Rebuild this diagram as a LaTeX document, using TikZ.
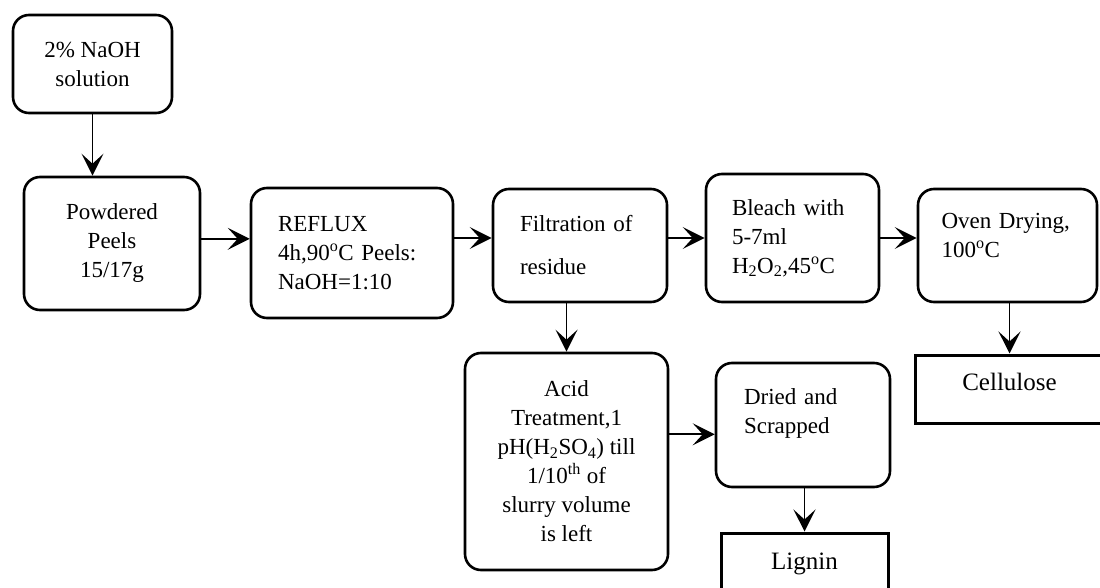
\documentclass[tikz,border=0pt]{standalone}
\usepackage{fontspec}
\setmainfont{Liberation Serif}
\usetikzlibrary{arrows.meta}

\begin{document}
\begin{tikzpicture}[x=1pt, y=-1pt,
  font=\fontsize{23}{29}\selectfont,
  box/.style={draw, line width=2.6pt, rounded corners=16pt, inner sep=0pt, align=center},
  lbox/.style={box, align=left, text width=#1},
  res/.style={draw, line width=3pt, inner sep=0pt, align=center, font=\fontsize{25}{29}\selectfont},
  arr/.style={-{Stealth[length=22pt, width=22pt, inset=10pt]}, line width=1.6pt}]
\useasboundingbox (0,0) rectangle (1100,588);
% pretreatment row
\node[box, minimum width=159pt, minimum height=98pt] (naoh) at (92.5,64) {2\% NaOH\\solution};
\node[box, minimum width=176pt, minimum height=133pt] (peels) at (112,243.5) {Powdered\\Peels\\15/17g};
\node[lbox=148pt, minimum width=202pt, minimum height=130pt] (reflux) at (352,253) {REFLUX\\4h,90\textsuperscript{o}C Peels:\\NaOH=1:10};
\node[lbox=120pt, minimum width=174pt, minimum height=113pt] (filt) at (580,245.5) {Filtration of\\[14pt]residue};
\node[lbox=121pt, minimum width=173pt, minimum height=128pt] (bleach) at (792.5,238) {Bleach with\\5-7ml\\H\textsubscript{2}O\textsubscript{2},45\textsuperscript{o}C};
\node[lbox=132pt, minimum width=179pt, minimum height=113pt] (oven) at (1007.5,245.5) {Oven Drying,\\100\textsuperscript{o}C\\[-9pt]\mbox{}};
% lignin branch
\node[box, minimum width=203pt, minimum height=217pt] (acid) at (566.5,461.5) {Acid\\Treatment,1\\pH(H\textsubscript{2}SO\textsubscript{4}) till\\1/10\textsuperscript{th} of\\slurry volume\\is left};
\node[lbox=118pt, minimum width=174pt, minimum height=124pt] (dried) at (803,425) {Dried and\\Scrapped\\[-1pt]\mbox{}};
% products
\node[res, minimum width=189pt, minimum height=68pt] (cell) at (1009.5,389) {Cellulose\\[-15pt]\mbox{}};
\node[res, minimum width=167pt, minimum height=61pt] (lignin) at (804.5,563.5) {Lignin};
% connectors
\draw[arr] (naoh.south) -- (naoh.south |- peels.north);
\draw[arr] (peels.3) -- (peels.3 -| reflux.west);
\draw[arr] (reflux.east |- bleach.west) -- (filt.west |- bleach.west);
\draw[arr] (filt.east |- bleach.west) -- (bleach.west);
\draw[arr] (bleach.east) -- (oven.west |- bleach.east);
\draw[arr] (acid.north |- filt.south) -- (acid.north);
\draw[arr] (acid.east |- dried.186) -- (dried.186);
\draw[arr] (lignin.north |- dried.south) -- (lignin.north);
\draw[arr] (cell.north |- oven.south) -- (cell.north);
\end{tikzpicture}
\end{document}
